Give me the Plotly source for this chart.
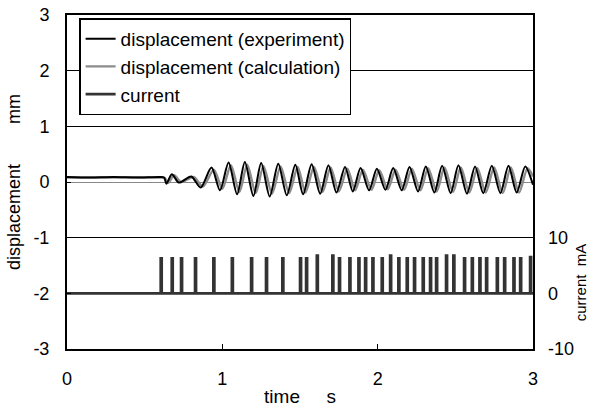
import plotly.graph_objects as go

# ---- data ----
# displacement (experiment), mm  -- vertices (time s, value mm)
exp_t = [0.00, 0.15, 0.30, 0.45, 0.60, 0.625, 0.64, 0.675, 0.72, 0.80, 0.86, 0.93, 0.985,
         1.04, 1.095, 1.145, 1.20, 1.25, 1.305, 1.36, 1.415, 1.47, 1.52, 1.575, 1.63,
         1.683, 1.735, 1.79, 1.84, 1.89, 1.945, 1.995, 2.05, 2.10, 2.155, 2.205, 2.26,
         2.31, 2.365, 2.415, 2.47, 2.52, 2.575, 2.627, 2.68, 2.735, 2.79, 2.842, 2.895,
         2.95, 3.00]
exp_v = [0.09, 0.08, 0.09, 0.08, 0.09, 0.08, -0.03, 0.14, -0.01, 0.10, -0.10, 0.26, -0.15,
         0.35, -0.22, 0.36, -0.25, 0.34, -0.26, 0.33, -0.24, 0.31, -0.22, 0.32, -0.21,
         0.30, -0.19, 0.27, -0.17, 0.25, -0.15, 0.24, -0.14, 0.25, -0.15, 0.27, -0.17,
         0.28, -0.19, 0.29, -0.20, 0.30, -0.21, 0.28, -0.20, 0.29, -0.20, 0.29, -0.19,
         0.28, -0.05]

# displacement (calculation), mm
cal_t = [0.00, 0.60, 0.63, 0.65, 0.69, 0.735, 0.815, 0.875, 0.945, 1.0,
         1.055, 1.11, 1.16, 1.215, 1.265, 1.32, 1.375, 1.43, 1.485, 1.535, 1.59, 1.645,
         1.697, 1.75, 1.805, 1.855, 1.905, 1.96, 2.01, 2.065, 2.115, 2.17, 2.22, 2.275,
         2.325, 2.38, 2.43, 2.485, 2.535, 2.59, 2.642, 2.695, 2.75, 2.805, 2.857, 2.91,
         2.965, 3.00]
cal_v = [0.08, 0.08, 0.07, -0.02, 0.12, 0.00, 0.09, -0.08, 0.22, -0.12,
         0.30, -0.18, 0.31, -0.20, 0.29, -0.21, 0.28, -0.20, 0.27, -0.19, 0.27, -0.18,
         0.26, -0.17, 0.24, -0.15, 0.22, -0.14, 0.21, -0.13, 0.22, -0.14, 0.24, -0.15,
         0.25, -0.17, 0.26, -0.18, 0.26, -0.19, 0.25, -0.19, 0.26, -0.20, 0.26, -0.19,
         0.25, 0.10]

# current pulses: onset times (s) and heights (mA)
pulse_t = [0.603, 0.674, 0.734, 0.824, 0.942, 1.061, 1.185, 1.281, 1.386, 1.500,
           1.539, 1.608, 1.708, 1.751, 1.818, 1.876, 1.919, 1.966, 2.026, 2.080,
           2.133, 2.187, 2.234, 2.290, 2.337, 2.376, 2.440, 2.487, 2.556, 2.606,
           2.655, 2.698, 2.767, 2.814, 2.874, 2.917, 2.981]
pulse_h = [6.3, 6.3, 6.3, 6.3, 6.3, 6.3, 6.3, 6.3, 6.3, 6.3,
           6.3, 6.8, 6.8, 6.3, 6.3, 6.3, 6.3, 6.3, 6.3, 6.8,
           6.3, 6.3, 6.3, 6.3, 6.3, 6.3, 6.8, 6.8, 6.3, 6.3,
           6.3, 6.3, 6.3, 6.3, 6.3, 6.3, 6.5]
pulse_w = 0.007

y_ticks = [-3, -2, -1, 0, 1, 2, 3]
y_ticktext = ["-3", "-2", "-1", "0", "1", "2", "3"]
x_ticks = [0, 1, 2, 3]
y2_ticks = [-10, 0, 10]
y2_ticktext = ["-10", "0", "10"]

# build step line for current from the pulse lists
cur_x, cur_y = [0.0], [0.0]
for t, h in zip(pulse_t, pulse_h):
    cur_x += [t, t, t + pulse_w, t + pulse_w]
    cur_y += [0.0, h, h, 0.0]
cur_x.append(3.0)
cur_y.append(0.0)

FONT = "Liberation Sans, Arial, sans-serif"
NB = "\u00a0"
FS = 18

fig = go.Figure()
fig.add_trace(go.Scatter(x=cur_x, y=cur_y, yaxis="y2", mode="lines",
                         line=dict(color="#333333", width=2.6),
                         name="current", legendrank=3))
fig.add_trace(go.Scatter(x=cal_t, y=cal_v, mode="lines",
                         line=dict(color="#8c8c8c", width=2.4, shape="spline", smoothing=0.8),
                         name="displacement (calculation)", legendrank=2))
fig.add_trace(go.Scatter(x=exp_t, y=exp_v, mode="lines",
                         line=dict(color="#000000", width=2, shape="spline", smoothing=0.8),
                         name="displacement (experiment)", legendrank=1))

fig.update_layout(
    width=590, height=409,
    margin=dict(l=67, r=57, t=15, b=60, autoexpand=False),
    paper_bgcolor="white", plot_bgcolor="white",
    font=dict(family=FONT, size=FS, color="black"),
    showlegend=True,
    legend=dict(x=0.026, y=0.99, xanchor="left", yanchor="top",
                bgcolor="white", bordercolor="black", borderwidth=1.5,
                font=dict(size=19), tracegroupgap=0, itemwidth=30,
                traceorder="normal"),
    xaxis=dict(range=[0, 3], tickvals=x_ticks, showgrid=False, zeroline=False,
               showline=True, linecolor="black", linewidth=2, mirror=True,
               ticks="inside", ticklen=5, tickcolor="black", ticklabelstandoff=12,
               automargin=False,
               title=dict(text="time" + NB * 5 + "s" + NB * 4, standoff=2, font=dict(size=19))),
    yaxis=dict(range=[-3, 3], tickvals=y_ticks, ticktext=y_ticktext,
               showgrid=True, gridcolor="black", gridwidth=1,
               zeroline=True, zerolinecolor="#888888", zerolinewidth=1,
               showline=True, linecolor="black", linewidth=2, mirror=True,
               ticks="inside", ticklen=4, tickcolor="black", ticklabelstandoff=12,
               automargin=False,
               title=dict(text="displacement" + NB * 8 + "mm", standoff=8, font=dict(size=FS))),
    yaxis2=dict(range=[-10, 50], tickvals=y2_ticks, ticktext=y2_ticktext,
                overlaying="y", side="right", automargin=False,
                showgrid=False, zeroline=False, showline=False,
                ticks="", ticklabelstandoff=14),
    annotations=[dict(text="current" + NB * 2 + "mA", textangle=-90, xref="paper", yref="paper",
                      x=1.101, y=0.2, xanchor="center", yanchor="middle", showarrow=False,
                      font=dict(size=15, family=FONT))],
)

fig.write_html("out.html")
